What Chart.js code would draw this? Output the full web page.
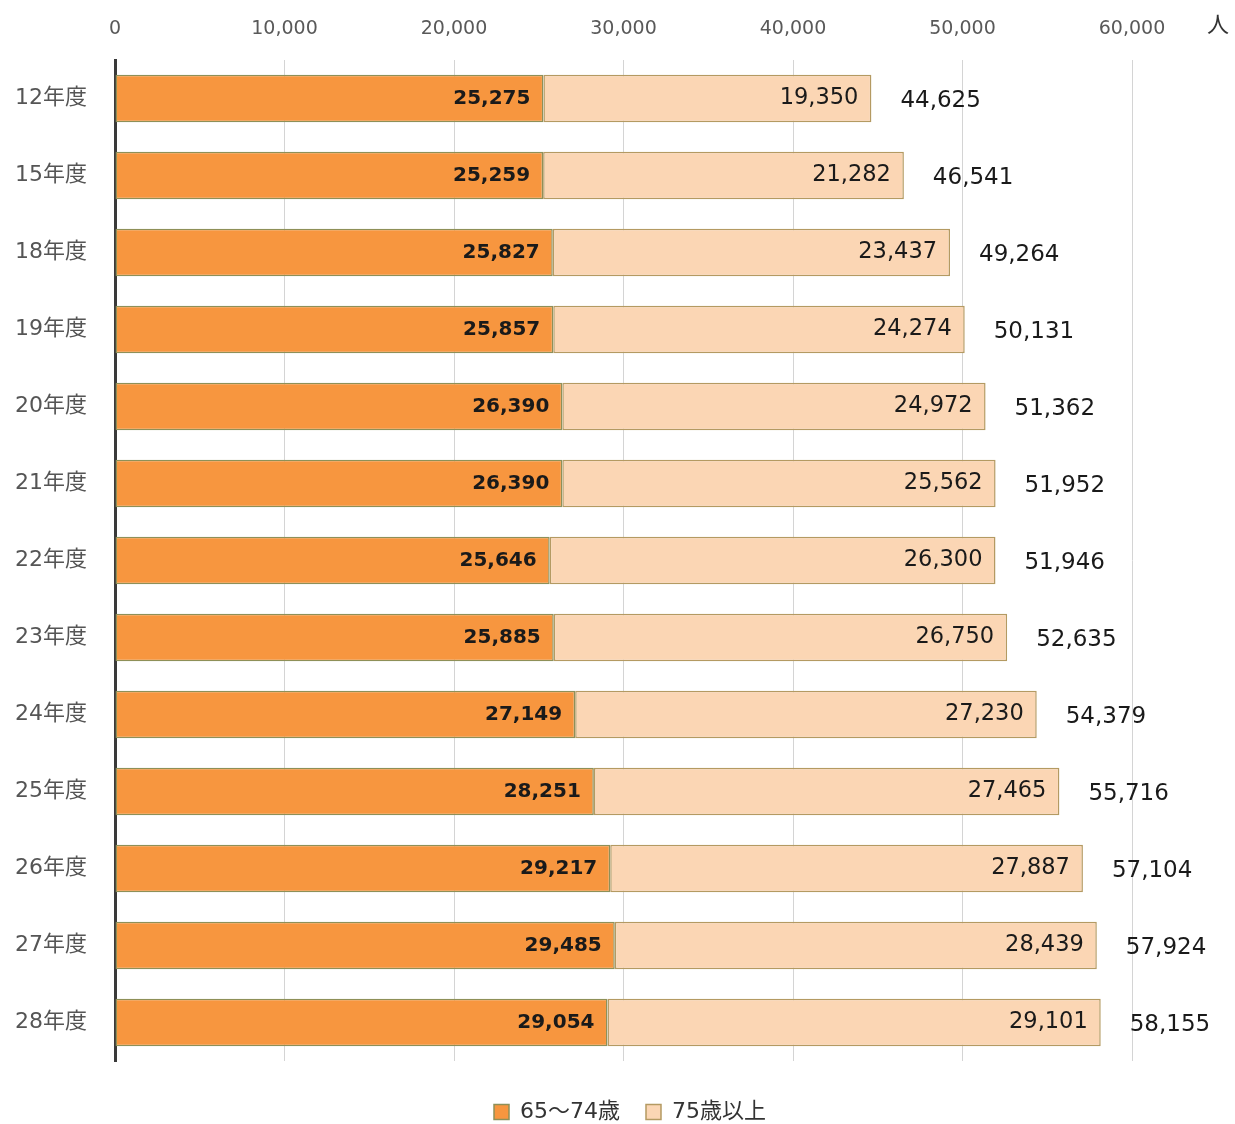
<!DOCTYPE html>
<html>
<head>
<meta charset="utf-8">
<script src="https://cdn.jsdelivr.net/npm/chart.js@4.4.1/dist/chart.umd.min.js"></script>
<style>
  html, body { margin: 0; padding: 0; background: #fff; }
  #wrap { width: 1235px; height: 1124px; position: relative; }
</style>
</head>
<body>
<div id="wrap"><canvas id="c" width="1235" height="1124"></canvas></div>
<script>
const categories = ['12年度','15年度','18年度','19年度','20年度','21年度','22年度','23年度','24年度','25年度','26年度','27年度','28年度'];
const age65to74 = [25275, 25259, 25827, 25857, 26390, 26390, 25646, 25885, 27149, 28251, 29217, 29485, 29054];
const age75plus = [19350, 21282, 23437, 24274, 24972, 25562, 26300, 26750, 27230, 27465, 27887, 28439, 29101];
const totals = [44625, 46541, 49264, 50131, 51362, 51952, 51946, 52635, 54379, 55716, 57104, 57924, 58155];
const seriesNames = ['65〜74歳', '75歳以上'];
const xTicks = [0, 10000, 20000, 30000, 40000, 50000, 60000];
const unitLabel = '人';

const FONT = '"DejaVu Sans", "Noto Sans CJK JP", sans-serif';
const fmt = v => v.toLocaleString('en-US');

const labelPlugin = {
  id: 'barLabels',
  afterDatasetsDraw(chart) {
    const ctx = chart.ctx;
    ctx.save();
    ctx.textBaseline = 'middle';
    const m0 = chart.getDatasetMeta(0);
    const m1 = chart.getDatasetMeta(1);
    m0.data.forEach((bar, i) => {
      ctx.font = 'bold 20px ' + FONT;
      ctx.fillStyle = '#1a1a1a';
      ctx.textAlign = 'right';
      ctx.fillText(fmt(age65to74[i]), bar.x - 13, bar.y);
    });
    m1.data.forEach((bar, i) => {
      ctx.font = '22.5px ' + FONT;
      ctx.fillStyle = '#1a1a1a';
      ctx.textAlign = 'right';
      ctx.fillText(fmt(age75plus[i]), bar.x - 13, bar.y);
      ctx.font = '23px ' + FONT;
      ctx.textAlign = 'left';
      ctx.fillText(fmt(totals[i]), bar.x + 29, bar.y + 3);
    });
    // unit label
    ctx.font = '22px ' + FONT;
    ctx.fillStyle = '#333';
    ctx.textAlign = 'center';
    ctx.fillText(unitLabel, 1218, 26);
    ctx.restore();
  }
};

const legendFitPlugin = {
  id: 'legendFit',
  afterInit(chart) {
    const lg = chart.legend;
    if (!lg) return;
    const orig = lg.fit;
    lg.fit = function () {
      orig.call(this);
      this.height = 63;
    };
  }
};

new Chart(document.getElementById('c'), {
  type: 'bar',
  data: {
    labels: categories,
    datasets: [
      {
        label: seriesNames[0],
        data: age65to74,
        backgroundColor: '#F7963F',
        borderColor: '#8E9058',
        borderWidth: 1.5,
        borderSkipped: false,
        barPercentage: 0.62,
        categoryPercentage: 1.0
      },
      {
        label: seriesNames[1],
        data: age75plus,
        backgroundColor: '#FBD6B4',
        borderColor: '#B49A62',
        borderWidth: 1.5,
        borderSkipped: false,
        barPercentage: 0.62,
        categoryPercentage: 1.0
      }
    ]
  },
  options: {
    indexAxis: 'y',
    responsive: false,
    animation: false,
    devicePixelRatio: 1,
    layout: { padding: { left: 12, right: -13, top: 0, bottom: 0 } },
    scales: {
      x: {
        position: 'top',
        stacked: true,
        min: 0,
        max: 60000,
        afterBuildTicks: s => { s.ticks = xTicks.map(v => ({ value: v })); },
        afterFit: s => { s.height = 60; },
        ticks: {
          font: { family: FONT, size: 19 },
          color: '#595959',
          padding: 20,
          callback: v => fmt(v)
        },
        grid: { color: '#d4d4d4', lineWidth: 1, drawTicks: false },
        border: { display: false }
      },
      y: {
        stacked: true,
        afterFit: s => { s.width = 103; },
        ticks: {
          font: { family: FONT, size: 22 },
          color: '#555555',
          padding: 20
        },
        grid: { display: false },
        border: { display: true, color: '#3a3a3a', width: 3 }
      },
      y2: {
        type: 'category',
        labels: categories,
        position: 'right',
        display: true,
        afterFit: s => { s.width = 116; },
        ticks: { display: false },
        grid: { display: false, drawTicks: false },
        border: { display: false }
      }
    },
    plugins: {
      legend: {
        position: 'bottom',
        align: 'center',
        title: { display: true, text: ' ', font: { size: 10 }, padding: { top: 2, bottom: 0 } },
        labels: {
          font: { family: FONT, size: 22 },
          color: '#333',
          boxWidth: 15,
          boxHeight: 15,
          padding: 26
        }
      },
      tooltip: { enabled: false }
    }
  },
  plugins: [labelPlugin, legendFitPlugin]
});
</script>
</body>
</html>
